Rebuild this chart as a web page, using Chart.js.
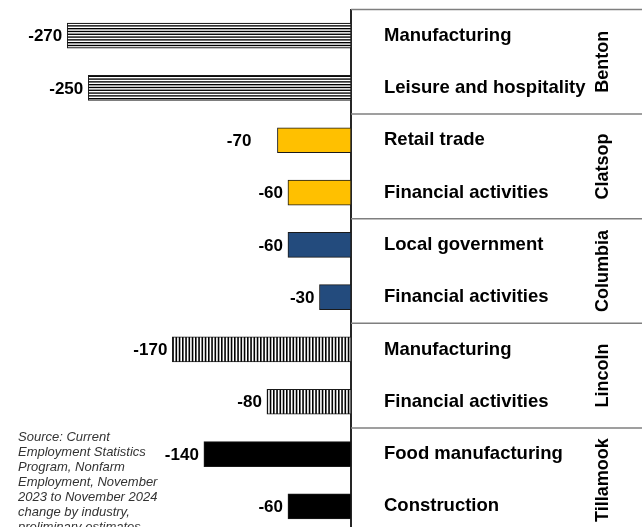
<!DOCTYPE html>
<html><head><meta charset="utf-8">
<script src="https://cdn.jsdelivr.net/npm/chart.js@4"></script>
<style>
html,body{margin:0;padding:0;overflow:hidden;background:#fff;width:642px;height:527px}
#wrap{position:relative;width:642px;height:545px}
</style>
</head><body>
<div id="wrap"><canvas id="c" width="642" height="545"></canvas></div>
<script>
const counties = ['Benton', 'Clatsop', 'Columbia', 'Lincoln', 'Tillamook'];
const industries = ['Manufacturing', 'Leisure and hospitality', 'Retail trade', 'Financial activities',
  'Local government', 'Financial activities', 'Manufacturing', 'Financial activities',
  'Food manufacturing', 'Construction'];
const countyIndex = [0, 0, 1, 1, 2, 2, 3, 3, 4, 4];
const changes = [-270, -250, -70, -60, -60, -30, -170, -80, -140, -60];
const sourceLines = ['Source: Current', 'Employment Statistics', 'Program, Nonfarm',
  'Employment, November', '2023 to November 2024', 'change by industry,', 'preliminary estimates'];

const FONT = 'Liberation Sans, Arial, Helvetica, sans-serif';

function stripes(vertical) {
  const c = document.createElement('canvas');
  const n = vertical ? 4 : 5;
  const period = vertical ? 3.25 : 2.8;
  const w = vertical ? 1.6 : 1.35;
  const size = Math.round(n * period);
  c.width = size; c.height = size;
  const g = c.getContext('2d');
  g.fillStyle = '#fff'; g.fillRect(0, 0, size, size);
  g.fillStyle = '#000';
  for (let k = 0; k < n; k++) {
    if (vertical) g.fillRect(k * period, 0, w, size);
    else g.fillRect(0, k * period, size, w);
  }
  return document.getElementById('c').getContext('2d').createPattern(c, 'repeat');
}
const countyFills = [stripes(false), '#FFC000', '#234B7D', stripes(true), '#000000'];

const decor = {
  id: 'decor',
  afterDraw(chart, args, opts) {
    const ctx = chart.ctx, ys = chart.scales.y, ca = chart.chartArea;
    const step = ys.getPixelForValue(1) - ys.getPixelForValue(0);
    ctx.save();
    // group separators
    ctx.strokeStyle = '#7f7f7f';
    ctx.lineWidth = 1.5;
    for (let g = 0; g < counties.length; g++) {
      const y = ys.getPixelForValue(g * 2) - step / 2;
      ctx.beginPath(); ctx.moveTo(ca.right, y); ctx.lineTo(chart.width, y); ctx.stroke();
    }
    // county names
    ctx.fillStyle = '#000';
    ctx.font = 'bold 18px ' + FONT;
    ctx.textAlign = 'center';
    ctx.textBaseline = 'middle';
    counties.forEach((name, g) => {
      const y = (ys.getPixelForValue(g * 2) + ys.getPixelForValue(g * 2 + 1)) / 2;
      ctx.save();
      ctx.translate(602, y);
      ctx.rotate(-Math.PI / 2);
      ctx.fillText(name, 0, 1);
      ctx.restore();
    });
    // value labels
    ctx.font = 'bold 17px ' + FONT;
    ctx.textAlign = 'right';
    const meta = chart.getDatasetMeta(0);
    meta.data.forEach((el, i) => {
      const gap = (opts.extraGap && opts.extraGap[i]) || 0;
      ctx.fillText(String(changes[i]), el.x - 5 - gap, el.y + 1);
    });
    // source note
    ctx.font = 'italic 13px ' + FONT;
    ctx.fillStyle = '#333';
    ctx.textAlign = 'left';
    sourceLines.forEach((t, i) => ctx.fillText(t, 18, 437 + i * 15));
    ctx.restore();
  }
};

new Chart(document.getElementById('c'), {
  type: 'bar',
  data: {
    labels: industries,
    datasets: [{
      data: changes,
      backgroundColor: countyIndex.map(i => countyFills[i]),
      borderColor: '#1a1a1a',
      borderWidth: 1,
      borderSkipped: false,
      barThickness: 25
    }]
  },
  options: {
    responsive: false,
    animation: false,
    indexAxis: 'y',
    layout: { padding: { top: 9.5, bottom: 12.5, left: 0, right: 0 } },
    plugins: { legend: { display: false }, tooltip: { enabled: false },
      decor: { extraGap: { 2: 21 } } },
    scales: {
      x: { display: false, min: -334, max: 0 },
      y: {
        position: 'right',
        grid: { display: false, drawTicks: false },
        border: { display: true, color: '#262626', width: 2 },
        ticks: { padding: 33, color: '#000', autoSkip: false,
          font: { family: FONT, weight: 'bold', size: 18.5 } },
        afterFit(s) { s.width = 291; s.paddingTop = 0; s.paddingBottom = 0; }
      }
    }
  },
  plugins: [decor]
});
</script>
</body></html>
